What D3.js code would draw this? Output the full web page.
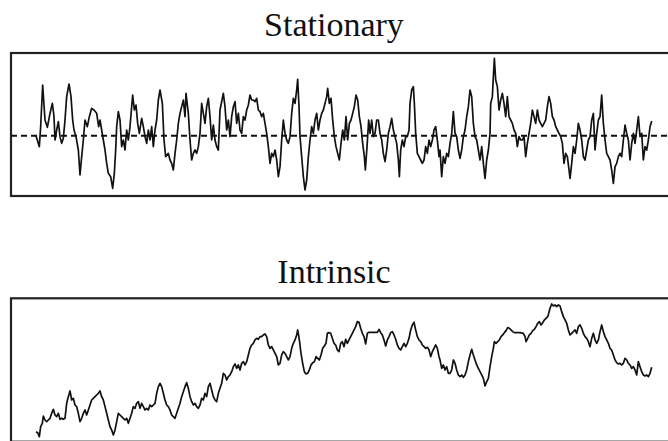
<!DOCTYPE html>
<html>
<head>
<meta charset="utf-8">
<script src="https://cdn.jsdelivr.net/npm/d3@7"></script>
<style>
  html, body { margin: 0; padding: 0; background: #fff; }
  svg { display: block; }
</style>
</head>
<body>
<script>
// Panel titles
const titles = ["Stationary", "Intrinsic"];

// Stationary series: sample time and deviation from the mean
const timeStationary = [0,10,14,20,27,34,42,49,54,57,62,67,72,77,82,87,92,99,105,110,114,120,127,132,137,142,147,154,160,167,174,182,188,192,197,202,207,212,217,224,230,235,239,242,247,252,257,262,267,272,277,282,287,290,295,300,305,310,317,322,327,332,337,342,347,352,357,362,367,372,379,384,389,397,402,407,412,417,422,427,432,437,442,447,450,457,462,467,472,477,482,487,492,497,502,507,512,517,522,527,532,537,542,547,552,562,567,572,577,582,587,592,597,602,607,612,617,622,627,632,637,642,647,652,657,662,667,672,677,682,687,692,697,702,707,712,717,722,727,732,737,742,747,752,757,762,767,772,777,782,785,789,792,797,802,807,812,817,822,827,832,837,842,847,852,857,862,867,872,875,880,885,890,895,900,905,910,915,920,925,930,935,940,945,950,955,960,965,970,975,980,985,988,993,998,1002,1007,1012,1017,1022,1027,1032,1037,1042,1047,1052,1057,1062,1067,1072,1077,1082,1087,1090,1094,1099,1104,1109,1114,1119,1122,1127,1132,1135,1139,1144,1149,1154,1159,1164,1169,1174,1179,1184,1189,1194,1199,1204,1209,1212,1217,1222,1227,1232,1237,1242,1247,1252,1257,1262,1267,1272,1277,1282,1287,1292,1297,1302,1307,1312,1317,1322,1327,1332,1337,1342,1347,1352,1357,1362,1364,1369,1372,1375,1379,1384,1389,1394,1399,1404,1409,1414,1419,1424,1429,1434,1439,1444,1449,1454,1459,1464,1469,1474,1479,1484,1489,1494,1499,1504,1509,1514,1519,1524,1529,1534,1539,1544,1549,1554,1559,1564,1569,1574,1579,1584,1589,1594,1599,1602,1607,1612,1617,1622,1627,1632,1637,1642,1647,1652,1657,1662,1667,1672,1677,1682,1687,1692,1697,1702,1707,1712,1717,1722,1727,1732,1737,1742,1747,1752,1757,1762,1767,1772,1777,1782,1787,1792,1797,1802,1807,1812,1817,1822,1827,1832,1837,1842,1847];
const valueStationary = [0.00,-0.33,0.27,1.52,0.47,0.25,0.67,0.97,0.57,-0.13,0.17,0.42,-0.03,-0.23,-0.08,0.47,1.17,1.55,1.17,0.47,0.17,-0.03,-0.43,-1.18,-0.63,-0.13,0.47,0.27,0.57,0.82,0.77,0.67,0.27,0.47,0.17,-0.13,-0.43,-0.83,-1.13,-1.23,-1.58,-1.13,-0.43,0.27,0.72,0.47,-0.33,-0.13,-0.43,0.17,-0.13,0.27,0.87,1.22,0.77,0.92,0.37,0.07,0.52,0.27,-0.03,-0.23,0.17,-0.13,0.27,-0.33,0.17,0.47,1.07,1.37,0.97,-0.13,-0.63,-0.53,-0.73,-0.83,-1.03,-0.53,-0.13,0.37,0.67,0.87,1.07,0.57,1.27,0.67,-0.13,-0.73,-0.53,-0.43,-0.53,-0.33,0.07,0.97,0.67,0.37,0.87,1.12,0.57,-0.13,0.32,-0.13,-0.33,-0.43,0.77,1.27,0.87,0.17,0.47,-0.03,0.57,0.87,1.02,0.37,0.67,0.17,0.07,0.57,0.47,0.77,0.92,1.22,1.07,1.07,1.02,1.12,0.77,0.72,0.57,0.67,0.37,0.07,-0.33,-0.83,-0.53,-0.63,-0.43,-0.73,-1.23,-0.93,-0.13,0.47,0.07,-0.13,-0.23,-0.03,0.67,1.12,0.97,1.37,1.69,0.87,-0.03,-0.63,-1.23,-1.63,-1.33,-0.63,-0.13,0.27,0.07,0.47,0.67,0.17,0.47,0.67,0.77,0.97,1.17,1.42,0.97,1.12,0.47,-0.03,-0.33,-0.53,-0.73,-0.23,0.17,-0.13,0.57,-0.13,0.37,0.47,0.67,0.87,1.22,1.07,0.57,0.27,-0.23,-0.63,-1.03,-0.33,0.47,0.07,0.47,-0.03,0.07,0.47,0.47,0.07,-0.13,-0.53,-0.78,-0.43,0.07,0.27,0.52,0.17,-0.03,-0.23,-0.73,-1.23,-0.43,-0.13,-0.33,-0.03,-0.03,0.17,0.97,1.37,1.47,0.97,0.07,-0.53,-0.63,-0.73,-0.83,-0.73,-0.33,-0.53,-0.13,-0.33,-0.13,0.17,0.27,-0.13,-0.63,-0.43,-1.23,-0.63,-0.83,-0.53,-0.63,-0.23,0.07,0.72,0.07,-0.03,-0.43,-0.68,-0.43,-0.03,0.17,0.57,0.87,1.37,1.17,0.37,-0.03,-0.13,-0.43,-0.73,-0.33,-0.83,-1.28,-0.73,-0.43,0.07,0.97,1.17,1.77,2.32,1.67,1.47,0.77,1.07,1.27,0.97,0.57,1.17,0.57,0.47,0.37,0.17,0.07,-0.33,-0.03,-0.13,-0.13,-0.03,-0.63,-0.23,0.07,0.37,0.77,0.57,0.37,0.77,0.47,0.37,0.27,0.37,0.47,0.87,1.17,0.97,0.57,0.47,0.27,0.17,0.07,-0.03,-0.23,-0.83,-0.53,-0.63,-1.03,-1.28,-0.83,-0.33,-0.53,-0.13,0.37,0.17,-0.13,-0.63,-0.73,-0.43,-0.13,-0.03,0.47,0.67,-0.43,0.07,0.47,0.57,1.22,0.37,-0.13,-0.53,-0.63,-0.73,-1.03,-1.43,-0.93,-0.83,-0.63,-0.53,-0.63,-0.13,0.32,0.07,-0.13,-0.73,-0.23,0.07,-0.23,0.17,0.57,-0.03,0.07,-0.73,-0.33,-0.43,-0.13,0.27,0.44];

// Intrinsic series: sample time and level
const timeIntrinsic = [0,5,10,14,19,22,27,32,37,42,47,52,57,62,67,72,77,82,87,92,97,102,107,112,117,122,127,132,137,142,147,152,157,162,167,172,177,182,187,192,197,202,207,212,217,222,227,232,237,242,247,252,257,262,267,272,277,282,287,292,297,302,307,312,317,322,327,332,337,342,347,352,357,362,367,372,377,382,387,392,397,402,407,412,417,422,427,432,437,442,447,452,457,462,467,472,477,482,487,492,497,502,507,512,517,522,527,532,537,542,547,552,557,562,567,572,577,582,587,592,597,602,607,612,617,622,627,632,637,642,647,652,657,662,667,672,677,682,687,692,697,702,707,712,717,722,727,732,737,742,747,752,757,762,767,772,777,782,785,790,795,800,805,810,815,820,825,830,835,840,845,850,855,860,865,870,874,879,884,889,894,899,904,909,914,919,924,929,934,939,944,949,954,959,964,969,974,979,984,989,994,999,1012,1024,1029,1034,1039,1044,1049,1054,1059,1064,1069,1074,1079,1084,1089,1094,1099,1104,1109,1114,1119,1124,1129,1134,1139,1144,1149,1154,1159,1164,1169,1174,1179,1184,1189,1194,1199,1204,1209,1212,1217,1222,1227,1232,1237,1242,1247,1252,1257,1262,1267,1272,1277,1282,1287,1292,1297,1302,1307,1312,1317,1322,1327,1332,1337,1342,1347,1352,1357,1362,1367,1372,1375,1380,1385,1390,1395,1400,1405,1410,1415,1420,1425,1430,1435,1442,1452,1462,1467,1470,1475,1480,1485,1490,1495,1500,1505,1510,1515,1520,1525,1530,1535,1538,1542,1547,1552,1557,1562,1567,1572,1577,1582,1587,1592,1597,1602,1607,1612,1617,1622,1627,1632,1637,1642,1647,1652,1657,1662,1667,1672,1677,1682,1687,1692,1697,1702,1707,1712,1717,1722,1727,1732,1737,1742,1747,1752,1757,1762,1767,1772,1777,1782,1787,1792,1797,1802,1807,1812,1817,1822,1827,1832,1837,1842,1847];
const valueIntrinsic = [0.25,0.22,0.10,0.40,0.50,0.72,0.60,0.55,0.60,0.65,0.80,0.92,0.75,0.70,0.80,0.62,0.65,0.62,0.65,1.10,1.30,1.47,1.20,1.25,1.05,1.00,0.80,0.55,0.65,0.80,0.90,0.75,0.90,1.05,1.20,1.25,1.30,1.35,1.40,1.47,1.30,1.20,1.00,0.80,0.60,0.40,0.30,0.15,0.30,0.55,0.80,0.75,0.70,0.65,0.60,0.65,0.50,0.65,0.80,1.00,0.95,1.10,1.15,0.95,1.10,1.00,0.90,0.95,0.90,1.05,1.00,1.05,1.10,1.40,1.60,1.70,1.60,1.40,1.20,1.05,1.00,0.90,0.75,0.70,0.65,0.80,0.95,1.10,1.30,1.45,1.60,1.72,1.55,1.30,1.15,1.05,1.10,1.00,0.95,1.05,1.25,1.20,1.40,1.30,1.60,1.70,1.50,1.30,1.20,1.15,1.40,1.55,1.70,2.00,1.95,1.80,1.90,1.95,2.05,2.20,2.28,2.15,2.25,2.10,2.30,2.35,2.25,2.35,2.55,2.75,2.85,2.90,3.00,3.05,3.02,3.10,3.10,3.15,3.18,3.10,2.85,2.75,2.80,2.70,2.60,2.50,2.25,2.30,2.55,2.65,2.60,2.50,2.40,2.50,2.75,2.90,3.00,3.15,3.30,3.00,2.60,2.30,2.05,1.98,2.00,2.10,2.25,2.32,2.35,2.50,2.45,2.40,2.55,2.75,2.82,2.90,3.20,3.22,3.20,3.05,2.90,2.85,2.70,2.65,2.90,2.95,2.80,3.02,2.90,3.00,3.10,3.20,3.30,3.40,3.55,3.53,3.35,3.20,3.10,2.88,3.20,3.23,3.23,3.23,3.32,3.22,3.15,3.00,2.82,3.00,3.10,3.22,3.25,3.15,3.02,2.85,2.75,2.70,2.80,2.90,2.80,2.90,3.05,3.30,3.45,3.53,3.30,3.10,3.00,2.95,2.85,2.80,2.75,2.78,2.70,2.50,2.65,2.75,2.85,2.75,2.50,2.40,2.15,2.25,2.10,2.20,2.00,2.00,2.10,2.40,2.30,2.10,1.95,1.90,1.95,1.88,1.95,2.10,2.35,2.55,2.72,2.55,2.40,2.25,2.15,2.05,1.95,1.85,1.62,1.75,1.85,2.20,2.50,2.75,2.95,2.90,2.95,3.00,3.10,3.15,3.22,3.28,3.37,3.35,3.30,3.25,3.22,3.22,3.22,3.20,3.10,2.95,3.05,3.15,3.20,3.28,3.32,3.40,3.50,3.55,3.45,3.52,3.60,3.65,3.70,3.80,3.95,4.08,4.02,4.05,4.00,4.05,4.02,3.85,3.70,3.60,3.50,3.30,3.15,3.20,3.25,3.30,3.20,3.40,3.45,3.35,3.20,3.10,3.05,2.95,2.80,3.05,3.20,3.00,2.90,3.00,3.25,3.45,3.25,3.10,3.00,2.90,2.75,2.70,2.55,2.40,2.32,2.28,2.30,2.25,2.30,2.45,2.40,2.30,2.25,2.15,2.20,2.10,1.95,2.35,2.20,2.05,1.95,1.92,1.95,1.90,2.00,2.18];

const W = 668, H = 441;
const svg = d3.select("body").append("svg")
  .attr("width", W).attr("height", H);

// Shared horizontal time scale for both panels
const x = d3.scaleLinear().domain([0, 1847]).range([36, 651.7]);

const panels = [
  { title: titles[0], t: timeStationary, v: valueStationary,
    box: { x0: 11, x1: 672, y0: 53, y1: 196 },
    plot: [196, 53],
    domain: [-1.81, 2.48], titleY: 36, mean: 0 },
  { title: titles[1], t: timeIntrinsic, v: valueIntrinsic,
    box: { x0: 11, x1: 672, y0: 298.3, y1: 441.7 },
    plot: [440, 298.3],
    domain: [0, 4.25], titleY: 283, mean: null }
];

panels.forEach(p => {
  const y = d3.scaleLinear().domain(p.domain).range(p.plot);
  const g = svg.append("g");

  g.append("text")
    .attr("x", 334)
    .attr("y", p.titleY)
    .attr("text-anchor", "middle")
    .style("font-family", "'Liberation Serif', 'Times New Roman', serif")
    .style("font-size", "34px")
    .attr("fill", "#111")
    .text(p.title);

  g.append("rect")
    .attr("x", p.box.x0).attr("y", p.box.y0)
    .attr("width", p.box.x1 - p.box.x0)
    .attr("height", p.box.y1 - p.box.y0)
    .attr("fill", "none")
    .attr("stroke", "#222")
    .attr("stroke-width", 2.2);

  if (p.mean !== null) {
    g.append("line")
      .attr("x1", p.box.x0).attr("x2", p.box.x1)
      .attr("y1", y(p.mean)).attr("y2", y(p.mean))
      .attr("stroke", "#111")
      .attr("stroke-width", 2)
      .attr("stroke-dasharray", "6,4");
  }

  const pts = p.t.map((t, i) => [t, p.v[i]]);
  const line = d3.line().x(d => x(d[0])).y(d => y(d[1]));
  g.append("path")
    .datum(pts)
    .attr("d", line)
    .attr("fill", "none")
    .attr("stroke", "#111")
    .attr("stroke-width", 1.7)
    .attr("stroke-linejoin", "round");
});
</script>
</body>
</html>
